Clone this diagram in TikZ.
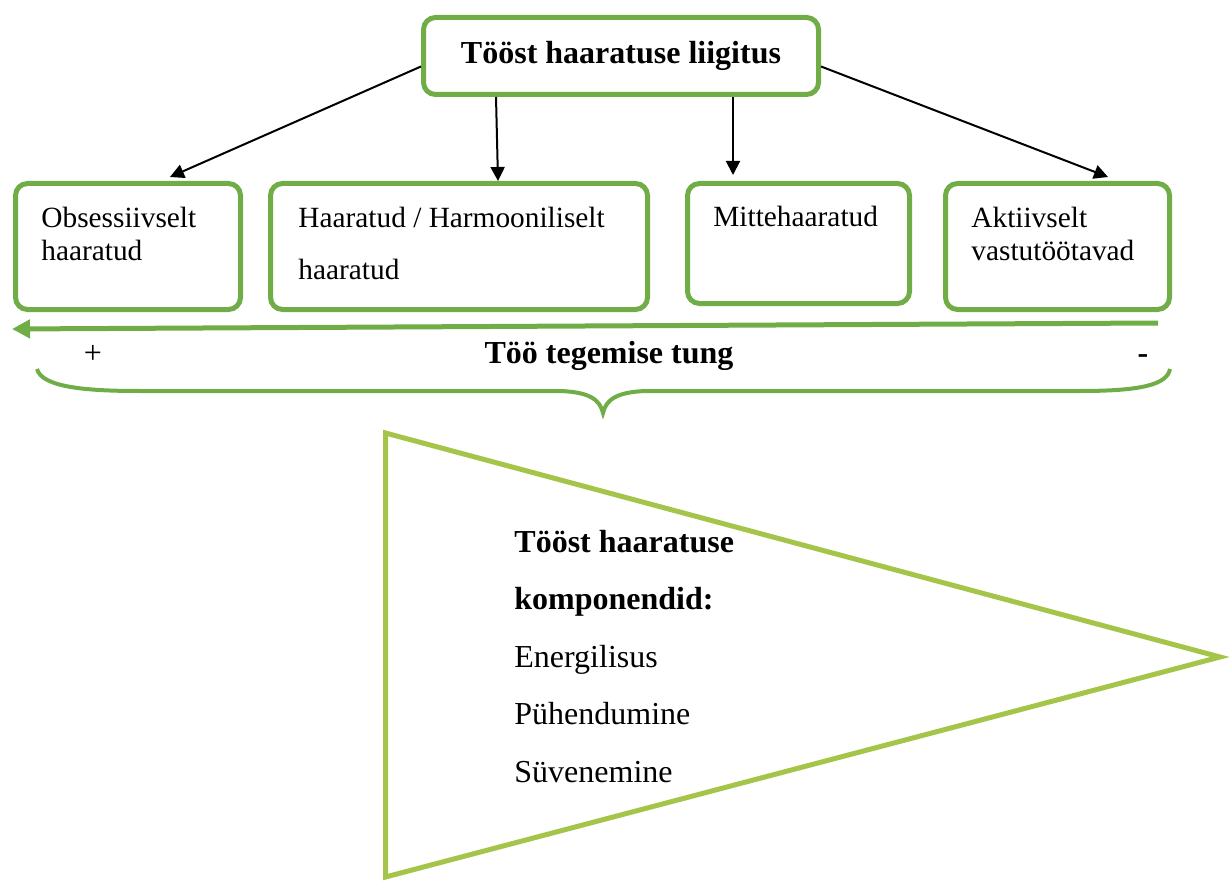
\documentclass[tikz,border=0pt]{standalone}
\usepackage{fontspec}
\setmainfont{Liberation Serif}
\usetikzlibrary{positioning,arrows.meta}
\definecolor{boxgreen}{RGB}{112,173,71}
\definecolor{trigreen}{RGB}{165,196,74}

\begin{document}
\begin{tikzpicture}[x=0.5pt, y=-0.5pt, every node/.style={font=\fontsize{14.67}{17}\selectfont}]
    \tikzstyle{box}=[draw=boxgreen, line width=2.5pt, rounded corners=6pt, fill=white]
    \tikzstyle{txt}=[anchor=base west, inner sep=0pt, align=left]
    \tikzstyle{big}=[font=\fontsize{16}{28.7}\selectfont]
    \tikzstyle{pil}=[-{Triangle[length=7pt,width=7pt]}, line width=1pt]
    \useasboundingbox (0,0) rectangle (1231,882);
    % klassifikatsioon
    \node[box, big, minimum width=197.5pt, minimum height=38.5pt] (liik) at (621,56) {\bfseries Tööst haaratuse liigitus};
    \node[box, minimum width=112.5pt, minimum height=63pt] (obs) at (128,246.5) {};
    \node[box, minimum width=188.5pt, minimum height=63pt] (harm) at (459,246.5) {};
    \node[box, minimum width=111pt, minimum height=60pt] (mitte) at (798.5,243.5) {};
    \node[box, minimum width=112pt, minimum height=63pt] (akt) at (1057.5,246.5) {};
    % tekstid (base = viimase rea alusjoon)
    \node[txt] (obs-t) at (41,261) {Obsessiivselt\\haaratud};
    \node[txt, font=\fontsize{14.67}{26}\selectfont] (harm-t) at (298,279) {Haaratud / Harmooniliselt\\haaratud};
    \node[txt] (mitte-t) at (713,227) {Mittehaaratud};
    \node[txt] (akt-t) at (971,261) {Aktiivselt\\vastutöötavad};
    \draw[pil] (liik.183) -- ([xshift=21pt,yshift=2pt]obs.north);
    \draw[pil] ([xshift=-62.5pt]liik.south) -- ([xshift=19.5pt]harm.north);
    \draw[pil] ([xshift=56pt]liik.south) -- ([xshift=-32.75pt,yshift=3pt]mitte.north);
    \draw[pil] (liik.-3) -- ([xshift=25.25pt,yshift=2pt]akt.north);
    % tung
    \coordinate (tungR) at (1158,323);
    \coordinate (tungL) at (12,329);
    \draw[boxgreen, line width=2.5pt, -{Triangle[length=9pt,width=9pt]}] (tungR) -- (tungL);
    \node[big, anchor=base, inner sep=0pt] (pluss) at (93,363) {+};
    \node[big, anchor=base, inner sep=0pt] (tung) at (609,363) {\bfseries Töö tegemise tung};
    \node[big, anchor=base, inner sep=0pt] (miinus) at (1143,363) {\bfseries -};
    \draw[boxgreen, line width=2pt] (37,369) .. controls (42,388) and (90,391) .. (140,391) -- (560,391)
        .. controls (590,392) and (600,400) .. (603,413) .. controls (606,400) and (616,392) .. (646,391)
        -- (1080,391) .. controls (1140,391) and (1167,385) .. (1170,369);
    % komponendid
    \draw[trigreen, line width=2.5pt] (385.5,433) -- (1220,657) -- (385.5,877) -- cycle;
    \node[txt, big] (komp) at (514,782) {\textbf{Tööst haaratuse}\\\textbf{komponendid:}\\Energilisus\\Pühendumine\\Süvenemine};
\end{tikzpicture}
\end{document}
